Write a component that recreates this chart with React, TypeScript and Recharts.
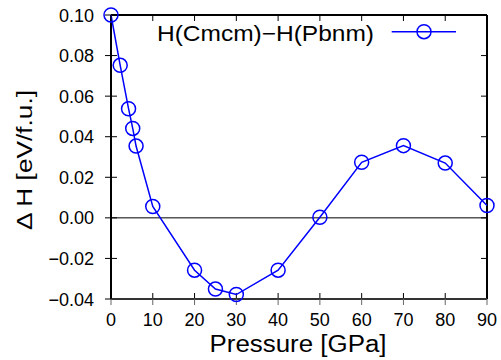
import React from "react";
import { LineChart, Line, XAxis, YAxis, ReferenceLine } from "recharts";

const pressure = [0, 2.2, 4.2, 5.2, 6, 10, 20, 25, 30, 40, 50, 60, 70, 80, 90];
const deltaH = [
  0.1, 0.0752, 0.0538, 0.0441, 0.0354, 0.0056, -0.0258, -0.0351, -0.0378,
  -0.0258, 0.0003, 0.0274, 0.0356, 0.027, 0.0061,
];
const xTicks = [0, 10, 20, 30, 40, 50, 60, 70, 80, 90];
const yTicks = [-0.04, -0.02, 0, 0.02, 0.04, 0.06, 0.08, 0.1];
const xDomain = [0, 90];
const yDomain = [-0.04, 0.1];
const seriesName = "H(Cmcm)\u2212H(Pbnm)";
const yTitle = "\u0394 H [eV/f.u.]";

const data = pressure.map((p, i) => ({ p, dh: deltaH[i] }));

const FONT = "'Liberation Sans', Arial, Helvetica, sans-serif";
const BLUE = "#0000ff";

const fmtY = (v: number) => v.toFixed(2).replace("-", "\u2212");

function BottomTick(props: any) {
  const { x, y, payload } = props;
  return (
    <text x={x} y={y + 19} textAnchor="middle" fontSize={18} fontFamily={FONT} fill="#000">
      {payload.value}
    </text>
  );
}

function LeftTick(props: any) {
  const { x, y, payload } = props;
  return (
    <text x={x - 9} y={y + 6.5} textAnchor="end" fontSize={18} fontFamily={FONT} fill="#000">
      {fmtY(payload.value)}
    </text>
  );
}

function XLabel(props: any) {
  const { viewBox } = props;
  return (
    <text
      x={viewBox.x + viewBox.width / 2 - 1}
      y={viewBox.y + 53}
      textAnchor="middle"
      fontSize={23}
      fontFamily={FONT}
      fill="#000"
      textLength={177}
      lengthAdjust="spacingAndGlyphs"
    >
      Pressure [GPa]
    </text>
  );
}

// y title drawn in its own svg, to the left of the plot
function YTitle() {
  const cx = 31.5;
  const cy = 160;
  return (
    <svg width={60} height={360} style={{ position: "absolute", left: 0, top: 0 }}>
      <text
        x={cx}
        y={cy}
        textAnchor="middle"
        fontSize={22}
        fontFamily={FONT}
        fill="#000"
        transform={`rotate(-90 ${cx} ${cy})`}
        textLength={140}
        lengthAdjust="spacingAndGlyphs"
      >
        {yTitle}
      </text>
    </svg>
  );
}

// key in the upper right, like gnuplot's "top right" key
function KeyBox() {
  return (
    <svg width={320} height={40} style={{ position: "absolute", left: 150, top: 15 }}>
      <text
        x={7}
        y={25.7}
        fontSize={22}
        fontFamily={FONT}
        fill="#000"
        textLength={217}
        lengthAdjust="spacingAndGlyphs"
      >
        {seriesName}
      </text>
      <line x1={241.7} x2={306} y1={16.7} y2={16.7} stroke={BLUE} strokeWidth={1.5} />
      <circle cx={274} cy={16.7} r={7} fill="none" stroke={BLUE} strokeWidth={1.5} />
    </svg>
  );
}

export default function App() {
  return (
    <div style={{ position: "absolute", left: 0, top: 0 }}>
      <LineChart
        width={501}
        height={360}
        data={data}
        margin={{ top: 15, right: 14, bottom: 0, left: 0 }}
      >
        <XAxis
          xAxisId="bottom"
          dataKey="p"
          type="number"
          domain={xDomain}
          ticks={xTicks}
          height={61}
          tick={<BottomTick />}
          label={<XLabel />}
        />
        <YAxis
          yAxisId="left"
          type="number"
          domain={yDomain}
          ticks={yTicks}
          width={111}
          tick={<LeftTick />}
          stroke="#000"
        />
        <ReferenceLine xAxisId="bottom" yAxisId="left" y={0} stroke="#000" strokeWidth={1} />
        {/* inward tick marks: a dash at each end of every tick line */}
        {xTicks.map((t) => (
          <ReferenceLine
            key={"xt" + t}
            xAxisId="bottom"
            yAxisId="left"
            x={t}
            stroke="#000"
            strokeWidth={1}
            strokeDasharray="6 272 6"
          />
        ))}
        {yTicks.map((t) => (
          <ReferenceLine
            key={"yt" + t}
            xAxisId="bottom"
            yAxisId="left"
            y={t}
            stroke="#000"
            strokeWidth={1}
            strokeDasharray="6 364 6"
          />
        ))}
        <ReferenceLine xAxisId="bottom" yAxisId="left" x={xDomain[0]} stroke="#000" strokeWidth={2} />
        <ReferenceLine xAxisId="bottom" yAxisId="left" x={xDomain[1]} stroke="#000" strokeWidth={2} />
        <ReferenceLine xAxisId="bottom" yAxisId="left" y={yDomain[0]} stroke="#000" strokeWidth={2} />
        <ReferenceLine xAxisId="bottom" yAxisId="left" y={yDomain[1]} stroke="#000" strokeWidth={2} />
        <Line
          xAxisId="bottom"
          yAxisId="left"
          type="linear"
          dataKey="dh"
          stroke={BLUE}
          strokeWidth={1.5}
          dot={{ r: 7, fill: "none", stroke: BLUE, strokeWidth: 1.5 }}
          isAnimationActive={false}
        />
      </LineChart>
      <YTitle />
      <KeyBox />
    </div>
  );
}
